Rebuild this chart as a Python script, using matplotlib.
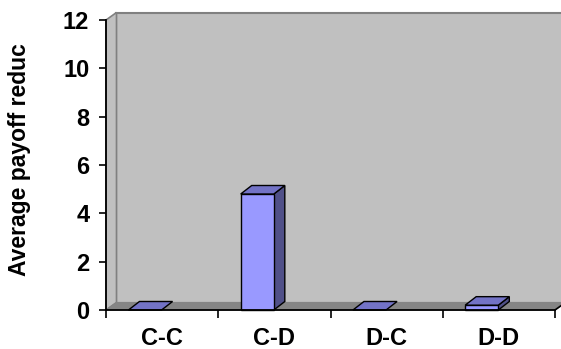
import matplotlib
matplotlib.use("Agg")
import matplotlib.pyplot as plt
from matplotlib.patches import Polygon

plt.rcParams['font.family'] = ['Liberation Sans', 'DejaVu Sans']

categories = ["C-C", "C-D", "D-C", "D-D"]
values = [0.0, 4.8, 0.0, 0.2]
y_ticks = [0, 2, 4, 6, 8, 10, 12]
y_label = "Average payoff reduc"

W, H = 561, 349
fig = plt.figure(figsize=(W / 100, H / 100), dpi=100)
ax = fig.add_axes([106 / W, (H - 310) / H, 449 / W, 290 / H])
ax.set_xlim(0, 4)
ax.set_ylim(0, 12)
ax.patch.set_visible(False)

# depth offsets in data units
px_x = 4 / 449
px_y = 12 / 290
dx, dy = 10.5 * px_x, 7.5 * px_y
bdx, bdy = 11 * px_x, 8.5 * px_y

wall_c = "#C0C0C0"
wall_edge = "#808080"
floor_c = "#858585"

# back wall
ax.add_patch(Polygon([(dx, dy), (4 + dx, dy), (4 + dx, 12 + dy), (dx, 12 + dy)],
                     closed=True, facecolor=wall_c, edgecolor=wall_edge, lw=1.5,
                     clip_on=False, zorder=0))
# left side wall
ax.add_patch(Polygon([(0, 0), (dx, dy), (dx, 12 + dy), (0, 12)],
                     closed=True, facecolor=wall_c, edgecolor=wall_edge, lw=1.2,
                     clip_on=False, zorder=0.5))
# floor
ax.add_patch(Polygon([(0, 0), (4, 0), (4 + dx, dy), (dx, dy)],
                     closed=True, facecolor=floor_c, edgecolor=floor_c, lw=0.8,
                     clip_on=False, zorder=1))
ax.plot([4, 4 + dx], [0, dy], color="black", lw=1.2, clip_on=False, zorder=1.2)

front_c = "#9999FF"
top_c = "#7373C6"
side_c = "#505088"
for i, v in enumerate(values):
    x0 = i + 0.2
    x1 = i + 0.495
    if v > 0:
        ax.add_patch(Polygon([(x1, 0), (x1 + bdx, bdy), (x1 + bdx, v + bdy), (x1, v)],
                             closed=True, facecolor=side_c, edgecolor="black", lw=1,
                             clip_on=False, zorder=2))
        ax.add_patch(Polygon([(x0, 0), (x1, 0), (x1, v), (x0, v)],
                             closed=True, facecolor=front_c, edgecolor="black", lw=1,
                             clip_on=False, zorder=2.1))
    ax.add_patch(Polygon([(x0, v), (x1, v), (x1 + bdx, v + bdy), (x0 + bdx, v + bdy)],
                         closed=True, facecolor=top_c, edgecolor="black", lw=1,
                         clip_on=False, zorder=2.2))

for s in ["top", "right"]:
    ax.spines[s].set_visible(False)
for s in ["left", "bottom"]:
    ax.spines[s].set_color("black")
    ax.spines[s].set_linewidth(1.3)
    ax.spines[s].set_zorder(3)

ax.set_yticks(y_ticks)
ax.set_yticklabels([str(t) for t in y_ticks], fontsize=17, fontweight="bold")
ax.tick_params(axis="y", direction="out", length=5, width=1.2, pad=7)

ax.set_xticks([0, 1, 2, 3, 4])
ax.set_xticklabels([])
ax.set_xticks([0.5, 1.5, 2.5, 3.5], minor=True)
ax.set_xticklabels(categories, minor=True, fontsize=17, fontweight="bold")
ax.tick_params(axis="x", which="major", direction="out", length=6, width=1.2)
ax.tick_params(axis="x", which="minor", length=0, pad=12)

fig.text(20 / W, 1 - 160 / H, y_label, rotation=90, ha="center", va="center",
         fontsize=16.5, fontweight="bold")

fig.savefig("out.png", dpi=100)
